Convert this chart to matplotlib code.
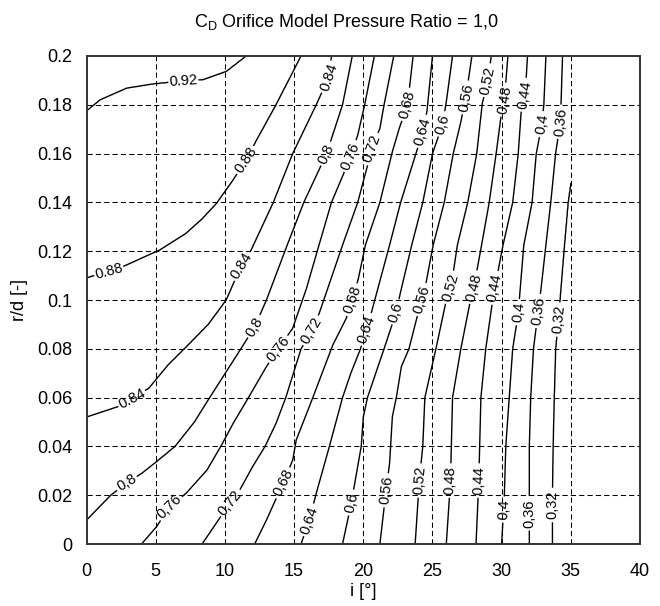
import numpy as np
import matplotlib
matplotlib.use('Agg')
import matplotlib.pyplot as plt
from matplotlib.ticker import FuncFormatter

plt.rcParams['font.family'] = ['Liberation Sans', 'DejaVu Sans']
plt.rcParams['mathtext.fontset'] = 'custom'
plt.rcParams['mathtext.rm'] = 'Liberation Sans'

# C_D on the left edge (i = 0) and right edge (i = 35) of the map
rd_left = [0, 0.0098, 0.052, 0.109, 0.1775, 0.2]
cd_left = [0.792, 0.80, 0.84, 0.88, 0.92, 0.93]
rd_right = [0, 0.148, 0.2]
cd_right = [0.29, 0.32, 0.345]

levels = [0.32, 0.36, 0.40, 0.44, 0.48, 0.52, 0.56, 0.60, 0.64, 0.68, 0.72, 0.76, 0.80, 0.84, 0.88, 0.92]

# points read along each C_D iso-line: r/d and incidence i [deg]
rd_092 = [0.1775, 0.182, 0.1868, 0.1885, 0.1895, 0.1902, 0.1936, 0.2]
i_092 = [0, 0.97, 2.9, 4.8, 6.6, 8.4, 10.1, 11.55]
rd_088 = [0.109, 0.1137, 0.1205, 0.1273, 0.1335, 0.1396, 0.1492, 0.158, 0.1656, 0.18, 0.2]
i_088 = [0, 2.65, 5.3, 7.2, 8.4, 9.4, 10.6, 11.6, 12.3, 13.7, 15.5]
rd_084 = [0.052, 0.0563, 0.0638, 0.0734, 0.0816, 0.09, 0.1, 0.1143, 0.1205, 0.14, 0.16, 0.18, 0.1918, 0.2]
i_084 = [0, 2.3, 4.5, 5.9, 7.35, 8.8, 10.1, 11.2, 11.9, 13.5, 14.9, 16.6, 17.55, 17.7]
rd_080 = [0.0098, 0.02, 0.025, 0.029, 0.0337, 0.04, 0.05, 0.06, 0.0795, 0.089, 0.1, 0.1225,
          0.14, 0.16, 0.18, 0.2]
i_080 = [0, 1.75, 2.9, 4.0, 5.05, 6.4, 7.8, 8.9, 11.1, 12.15, 13.0, 14.5,
         15.7, 17.35, 18.5, 19.2]
rd_076 = [0, 0.0071, 0.0153, 0.0208, 0.0303, 0.04, 0.0495, 0.06, 0.0727, 0.0795, 0.0884, 0.1048,
          0.1225, 0.14, 0.1574, 0.1676, 0.18, 0.2]
i_076 = [3.97, 5.06, 6.0, 7.2, 8.7, 9.7, 10.6, 11.7, 13.0, 13.8, 14.9, 15.9,
         16.8, 17.7, 19.0, 19.6, 20.1, 20.8]
rd_072 = [0, 0.0167, 0.0221, 0.0317, 0.04, 0.0495, 0.06, 0.08, 0.088, 0.0952, 0.1225, 0.14,
          0.1625, 0.1704, 0.18, 0.2]
i_072 = [8.35, 10.35, 11.07, 12.0, 12.9, 13.7, 14.4, 15.5, 16.35, 16.85, 18.5, 19.6,
         20.65, 21.2, 21.5, 22.2]
rd_068 = [0, 0.0098, 0.0249, 0.0344, 0.0426, 0.06, 0.0816, 0.0925, 0.1007, 0.1089, 0.1225, 0.14,
          0.1608, 0.1704, 0.18, 0.2]
i_068 = [12.15, 13.0, 14.2, 14.9, 15.15, 16.35, 17.8, 18.77, 19.25, 19.65, 20.15, 21.2,
         22.1, 22.6, 23.2, 23.6]
rd_064 = [0, 0.0098, 0.0208, 0.04, 0.06, 0.07, 0.08, 0.088, 0.0952, 0.1225, 0.14, 0.1635, 0.1772, 0.2]
i_064 = [15.5, 16.1, 16.6, 17.55, 18.5, 19.1, 19.8, 20.2, 20.6, 21.9, 22.7, 24.0, 24.6, 25.0]
rd_060 = [0, 0.0167, 0.04, 0.052, 0.06, 0.08, 0.0945, 0.1034, 0.1225, 0.14, 0.16, 0.1724, 0.1813, 0.2]
i_060 = [18.5, 19.13, 19.85, 20.0, 20.3, 21.5, 22.35, 22.7, 23.5, 24.3, 25.0, 25.75, 26.0, 26.45]
rd_056 = [0, 0.0221, 0.0331, 0.0522, 0.0604, 0.0727, 0.08, 0.1, 0.1075, 0.1225, 0.14, 0.16,
          0.173, 0.1827, 0.2]
i_056 = [21.2, 21.65, 21.9, 22.1, 22.4, 22.75, 23.3, 24.2, 24.55, 25.05, 25.85, 26.5,
         27.05, 27.4, 27.85]
rd_052 = [0, 0.0262, 0.04, 0.06, 0.08, 0.1, 0.1055, 0.1225, 0.14, 0.16, 0.1806, 0.1895, 0.2]
i_052 = [23.75, 24.05, 24.3, 24.45, 25.25, 26.0, 26.35, 26.8, 27.55, 28.2, 28.6, 29.0, 29.25]
rd_048 = [0, 0.0255, 0.06, 0.08, 0.1, 0.1055, 0.1225, 0.14, 0.16, 0.1751, 0.182, 0.2]
i_048 = [26.0, 26.3, 26.45, 27.05, 27.75, 28.0, 28.55, 29.1, 29.6, 29.95, 30.2, 30.45]
rd_044 = [0, 0.0262, 0.06, 0.08, 0.1, 0.1048, 0.1225, 0.14, 0.16, 0.1765, 0.184, 0.2]
i_044 = [28.15, 28.35, 28.5, 28.85, 29.35, 29.5, 30.1, 30.8, 31.2, 31.4, 31.7, 31.87]
rd_040 = [0, 0.0208, 0.04, 0.06, 0.08, 0.0945, 0.1225, 0.14, 0.16, 0.1717, 0.18, 0.2]
i_040 = [30.0, 30.2, 30.3, 30.55, 30.8, 31.2, 31.6, 32.2, 32.5, 32.9, 33.05, 33.2]
rd_036 = [0, 0.04, 0.06, 0.08, 0.0959, 0.1048, 0.1225, 0.14, 0.16, 0.173, 0.2]
i_036 = [32.0, 32.0, 32.1, 32.3, 32.65, 32.85, 33.2, 33.55, 33.9, 34.25, 34.4]
rd_032 = [0, 0.02, 0.04, 0.06, 0.08, 0.092, 0.12, 0.14, 0.148]
i_032 = [33.67, 33.67, 33.72, 33.8, 33.9, 34.1, 34.5, 34.8, 35.0]

curves = [(rd_032, i_032), (rd_036, i_036), (rd_040, i_040), (rd_044, i_044),
          (rd_048, i_048), (rd_052, i_052), (rd_056, i_056), (rd_060, i_060),
          (rd_064, i_064), (rd_068, i_068), (rd_072, i_072), (rd_076, i_076),
          (rd_080, i_080), (rd_084, i_084), (rd_088, i_088), (rd_092, i_092)]

# where the reference puts its contour labels
label_pos = [(7.0, 0.189),
             (1.6, 0.112), (11.55, 0.157),
             (3.3, 0.059), (11.2, 0.114), (17.55, 0.191),
             (2.9, 0.025), (12.15, 0.089), (17.3, 0.160),
             (6.0, 0.0153), (14.0, 0.079), (19.05, 0.159),
             (10.35, 0.017), (16.35, 0.087), (20.6, 0.162),
             (14.2, 0.025), (19.25, 0.10), (23.2, 0.18),
             (16.1, 0.0098), (20.2, 0.088), (24.3, 0.169),
             (19.1, 0.017), (22.4, 0.095), (25.75, 0.172),
             (21.65, 0.022), (24.3, 0.10), (27.4, 0.183),
             (24.05, 0.026), (26.35, 0.105), (29.0, 0.19),
             (26.3, 0.026), (28.1, 0.105), (30.3, 0.182),
             (28.35, 0.026), (29.5, 0.105), (31.75, 0.184),
             (30.3, 0.014), (31.2, 0.095), (32.95, 0.172),
             (32.0, 0.0126), (32.65, 0.0955), (34.3, 0.173),
             (33.67, 0.016), (34.1, 0.092)]


def build_field(i_grid, r_grid):
    left = np.interp(r_grid, rd_left, cd_left)
    right = np.interp(r_grid, rd_right, cd_right)
    z = np.empty((len(r_grid), len(i_grid)))
    for k, r in enumerate(r_grid):
        xs = [0.0]
        vs = [left[k]]
        for lev, (rs, iv) in zip(levels, curves):
            if rs[0] <= r <= rs[-1]:
                xs.append(np.interp(r, rs, iv))
                vs.append(lev)
        xs.append(35.0)
        vs.append(right[k])
        xs = np.array(xs)
        vs = np.array(vs)
        order = np.argsort(xs, kind='stable')
        z[k] = np.interp(i_grid, xs[order], vs[order])
    return z


def fmt(v):
    s = f'{v:g}'
    if v < 0.83:
        s = s.replace('.', ',')
    return s


def main():
    i_grid = np.linspace(0, 35, 701)
    r_grid = np.linspace(0, 0.2, 801)
    z = build_field(i_grid, r_grid)

    fig = plt.figure(figsize=(6.6, 6.06), dpi=100)
    ax = fig.add_axes([0.1312, 0.1023, 0.8385, 0.8053])

    for x in range(5, 40, 5):
        ax.axvline(x, color='black', lw=0.75, ls=(0, (5, 3)), zorder=1)
    for y in np.arange(0.02, 0.19, 0.02):
        ax.axhline(y, color='black', lw=0.75, ls=(0, (5, 3)), zorder=1)

    cs = ax.contour(i_grid, r_grid, z, levels=levels, colors='black', linewidths=1.0, zorder=2)
    texts = ax.clabel(cs, levels, inline=True, fmt=fmt, fontsize=10.5, manual=label_pos,
                      inline_spacing=3)
    # labels on vertical lines should read upwards like in the original
    for t in texts:
        rot = t.get_rotation() % 360
        if 255 <= rot <= 285:
            t.set_rotation(rot - 180)

    ax.set_xlim(0, 40)
    ax.set_ylim(0, 0.2)
    ax.set_xticks(range(0, 45, 5))
    ax.set_yticks(np.arange(0, 0.21, 0.02))
    ax.yaxis.set_major_formatter(FuncFormatter(lambda v, p: f'{round(v, 2):g}'))
    ax.tick_params(length=0, labelsize=13, pad=10.5)
    ax.tick_params(axis='x', pad=14)
    for sp in ax.spines.values():
        sp.set_linewidth(1.4)
        sp.set_color('#333333')

    ax.set_xlabel('i [°]', fontsize=13, labelpad=2)
    ax.set_ylabel('r/d [-]', fontsize=13, labelpad=6)
    ax.set_title(r'$\mathregular{C_D}$ Orifice Model Pressure Ratio = 1,0', fontsize=13,
                 x=0.469, pad=21)

    fig.savefig('out.png', dpi=100)


if __name__ == "__main__":
    main()
